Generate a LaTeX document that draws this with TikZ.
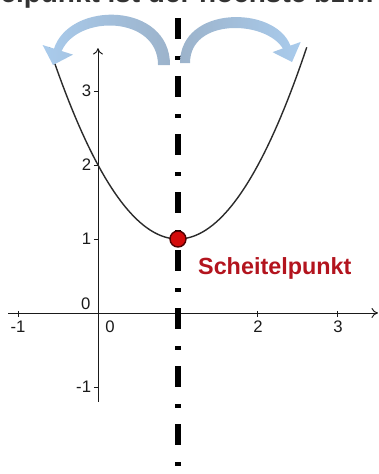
\documentclass[tikz,border=0pt]{standalone}
\usepackage{fontspec}
\setmainfont{Liberation Sans}
\usepackage{xcolor}
\usepackage{tikz}
\usetikzlibrary{arrows.meta,positioning,shadings}
\definecolor{ax}{HTML}{1A1A1A}
\definecolor{kurve}{HTML}{2B2B2B}
\definecolor{sp}{HTML}{B3141E}
\definecolor{pfeil}{HTML}{A9CBEC}
\definecolor{pfeilb}{HTML}{9CB3CB}
\definecolor{titel}{HTML}{333333}
\tikzset{
  achse/.style={draw=ax, line width=0.55pt, -{To[length=1.3mm,width=2mm]}},
  tick/.style={draw=ax, line width=0.55pt},
  zahl/.style={font=\fontsize{9.5}{10}\selectfont, text=ax, inner sep=1pt},
  sym/.style={draw=black, line width=3.4pt, dash pattern=on 0.42cm off 0.34cm on 0.08cm off 0.32cm},
  punkt/.style={circle, minimum size=0.32cm, inner sep=0pt, draw={rgb,255:red,80;green,0;blue,0},
                line width=0.8pt, fill={rgb,255:red,212;green,10;blue,10}},
}
\begin{document}
\begin{tikzpicture}[x=1.6cm, y=1.48cm]
  \useasboundingbox (-1.225,-2.176) rectangle (3.5125,4.23);

  % --- Ueberschrift, oben abgeschnitten ---
  \node[font=\fontsize{15.9}{16}\selectfont\bfseries, text=titel, anchor=base east,
        inner sep=0pt] (titel) at (3.45,4.2) {Scheitelpunkt ist der höchste bzw.};

  % --- Achsen ---
  \draw[achse] (-1.12,0) -- (3.5,0);
  \draw[achse] (0,-1.2) -- (0,3.58);
  \foreach \y in {-1,1,2,3}
    \draw[tick] (-0.05,\y) -- (0,\y);
  \foreach \x in {-1,2,3}
    \draw[tick] (\x,0.03) -- (\x,-0.05);

  \node[zahl, anchor=east] (y3) at (-0.06,3) {3};
  \node[zahl, anchor=east] (y2) at (-0.06,2) {2};
  \node[zahl, anchor=east] (y1) at (-0.06,1) {1};
  \node[zahl, anchor=south east] (y0) at (-0.07,0.02) {0};
  \node[zahl, anchor=east] (ym1) at (-0.06,-1) {-1};
  \node[zahl, anchor=north] (xm1) at (-1,-0.08) {-1};
  \node[zahl, anchor=north] (x0) at (0.15,-0.08) {0};
  \node[zahl, anchor=north] (x2) at (2,-0.08) {2};
  \node[zahl, anchor=north] (x3) at (3,-0.08) {3};

  % --- Symmetrieachse x = 1 ---
  \draw[sym] (1,3.986) -- (1,-2.2);

  % --- Parabel y = (x-1)^2 + 1 ---
  \draw[kurve, line width=0.8pt, domain=-0.61:2.61, samples=80]
    plot (\x,{(\x-1)^2+1});

  % --- Scheitelpunkt ---
  \node[punkt] (scheitel) at (1,1) {};
  \node[font=\fontsize{13.3}{14}\selectfont\bfseries, text=sp, inner sep=0pt]
       (lbl) at (2.21,0.6) {Scheitelpunkt};

  % --- gebogene Pfeile (Pixelraster des Bildes) ---
  \begin{scope}[x=0.02cm, y=-0.02cm, shift={(-1.96cm,6.26cm)}]
    \shade[left color=pfeil, right color=pfeilb]
      (170,65) .. controls (170,2) and (70,0) .. (54,48.6)
      -- (42.6,45) -- (53,65) -- (73,54.6) -- (61.6,51)
      .. controls (78,14) and (158,16) .. (158,65) -- cycle;
    \shade[left color=pfeilb, right color=pfeil]
      (180,63) .. controls (180,5) and (275,5) .. (290.4,45.6)
      -- (300.7,41.9) -- (292,62) -- (272.5,52.1) -- (282.8,48.4)
      .. controls (265,20) and (190,18) .. (190,63) -- cycle;
  \end{scope}
\end{tikzpicture}
\end{document}
